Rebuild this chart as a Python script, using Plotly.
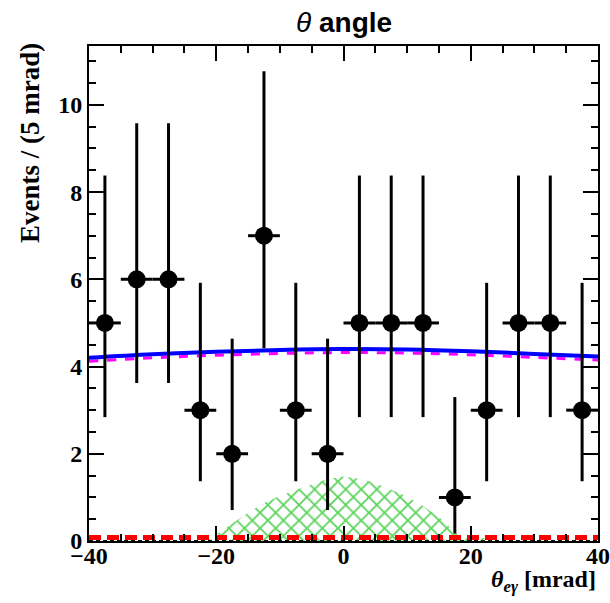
import plotly.graph_objects as go

# Data points (bin centers, counts, Poisson 68% interval bounds)
bin_centers = [-37.5, -32.5, -27.5, -22.5, -17.5, -12.5, -7.5, -2.5,
               2.5, 7.5, 12.5, 17.5, 22.5, 27.5, 32.5, 37.5]
counts = [5, 6, 6, 3, 2, 7, 3, 2, 5, 5, 5, 1, 3, 5, 5, 3]
err_low = [2.84, 3.62, 3.62, 1.37, 0.71, 4.42, 1.37, 0.71,
           2.84, 2.84, 2.84, 0.17, 1.37, 2.84, 2.84, 1.37]
err_high = [8.38, 9.58, 9.58, 5.92, 4.64, 10.77, 5.92, 4.64,
            8.38, 8.38, 8.38, 3.30, 5.92, 8.38, 8.38, 5.92]

# Total fit (blue) and background component (magenta)
curve_x = [-40, -30, -20, -10, 0, 10, 20, 30, 40]
total_y = [4.20, 4.28, 4.34, 4.38, 4.40, 4.39, 4.35, 4.29, 4.23]
bkg_y = [4.12, 4.20, 4.26, 4.30, 4.32, 4.31, 4.27, 4.21, 4.15]

# Signal component (red dashed)
sig_x = [-40, 0, 40]
sig_y = [0.08, 0.08, 0.08]

# Hatched green component
green_x = [-40, -22, -21, -20, -17.5, -15, -12.5, -10, -7.5, -5, -2.5, 0,
           2.5, 5, 7.5, 10, 12.5, 15, 16.5, 17.5, 18.5, 20, 22, 23.5, 40]
green_y = [0, 0, 0.05, 0.15, 0.42, 0.65, 0.87, 1.03, 1.17, 1.30, 1.42, 1.48,
           1.43, 1.33, 1.18, 1.02, 0.80, 0.55, 0.35, 0.20, 0.10, 0.10, 0.07, 0, 0]

x_ticks = [-40, -20, 0, 20, 40]
y_ticks = [0, 2, 4, 6, 8, 10]

fig = go.Figure()

fig.add_trace(go.Scatter(
    x=green_x, y=green_y, mode="lines", fill="tozeroy",
    line=dict(width=0, color="rgba(0,0,0,0)"),
    fillcolor="rgba(255,255,255,0)",
    fillpattern=dict(shape="x", fgcolor="rgb(90,212,90)", bgcolor="rgba(255,255,255,0)",
                     size=11, solidity=0.3),
    hoverinfo="skip", showlegend=False))

fig.add_trace(go.Scatter(
    x=sig_x, y=[0.01, 0.01, 0.01], mode="lines",
    line=dict(color="black", width=1, dash="4px,3px"), hoverinfo="skip", showlegend=False))

fig.add_trace(go.Scatter(
    x=sig_x, y=sig_y, mode="lines",
    line=dict(color="red", width=5, dash="12px,6px"), showlegend=False))

fig.add_trace(go.Scatter(
    x=curve_x, y=bkg_y, mode="lines",
    line=dict(color="magenta", width=3, dash="dash", shape="spline"), showlegend=False))

fig.add_trace(go.Scatter(
    x=curve_x, y=total_y, mode="lines",
    line=dict(color="blue", width=4, shape="spline"), showlegend=False))

fig.add_trace(go.Scatter(
    x=bin_centers, y=counts, mode="markers",
    marker=dict(color="black", size=18, symbol="circle"),
    error_y=dict(type="data", symmetric=False,
                 array=[h - c for h, c in zip(err_high, counts)],
                 arrayminus=[c - l for c, l in zip(counts, err_low)],
                 color="black", thickness=3, width=0),
    error_x=dict(type="constant", value=2.5, color="black", thickness=3, width=0),
    showlegend=False))

tickfont = dict(family="Liberation Serif", size=24, color="black", weight="bold")

fig.update_layout(
    template="none",
    width=610, height=603,
    margin=dict(l=89, r=12, t=46, b=62, autoexpand=False),
    plot_bgcolor="white", paper_bgcolor="white",
    xaxis=dict(range=[-40, 40], tickvals=x_ticks, ticks="inside", ticklen=15,
               tickwidth=1.5, tickcolor="black", showline=True, linecolor="black",
               linewidth=2, mirror="allticks", showgrid=False, zeroline=False,
               tickfont=tickfont, ticklabelstandoff=-8, automargin=False,
               minor=dict(dtick=5, ticks="inside", ticklen=7, tickwidth=1.5,
                          tickcolor="black", showgrid=False)),
    yaxis=dict(range=[0, 11.35], tickvals=y_ticks, ticks="inside", ticklen=15,
               tickwidth=1.5, tickcolor="black", showline=True, linecolor="black",
               linewidth=2, mirror="allticks", showgrid=False, zeroline=False,
               tickfont=tickfont, automargin=False,
               minor=dict(dtick=0.5, ticks="inside", ticklen=7, tickwidth=1.5,
                          tickcolor="black", showgrid=False)),
    annotations=[
        dict(text="<i>θ</i> <b>angle</b>", x=0.5, y=1.0, xref="paper", yref="paper",
             yshift=24, xanchor="center", yanchor="middle", showarrow=False,
             font=dict(family="Liberation Sans", size=28, color="black")),
        dict(text="<b><i>θ</i></b><sub><b><i>eγ</i></b></sub><b> [mrad]</b>",
             x=1.0, y=0, xref="paper", yref="paper", yshift=-40,
             xanchor="right", yanchor="middle", showarrow=False,
             font=dict(family="Liberation Serif", size=24, color="black")),
        dict(text="<b>Events / (5 mrad)</b>", textangle=-90,
             x=0, y=1.0, xref="paper", yref="paper", xshift=-59, yshift=5,
             xanchor="center", yanchor="top", showarrow=False,
             font=dict(family="Liberation Serif", size=27, color="black")),
    ],
)

fig.write_html("out.html", config={"displayModeBar": False},
               post_script="document.body.style.margin='0px';document.body.style.overflow='hidden';")
